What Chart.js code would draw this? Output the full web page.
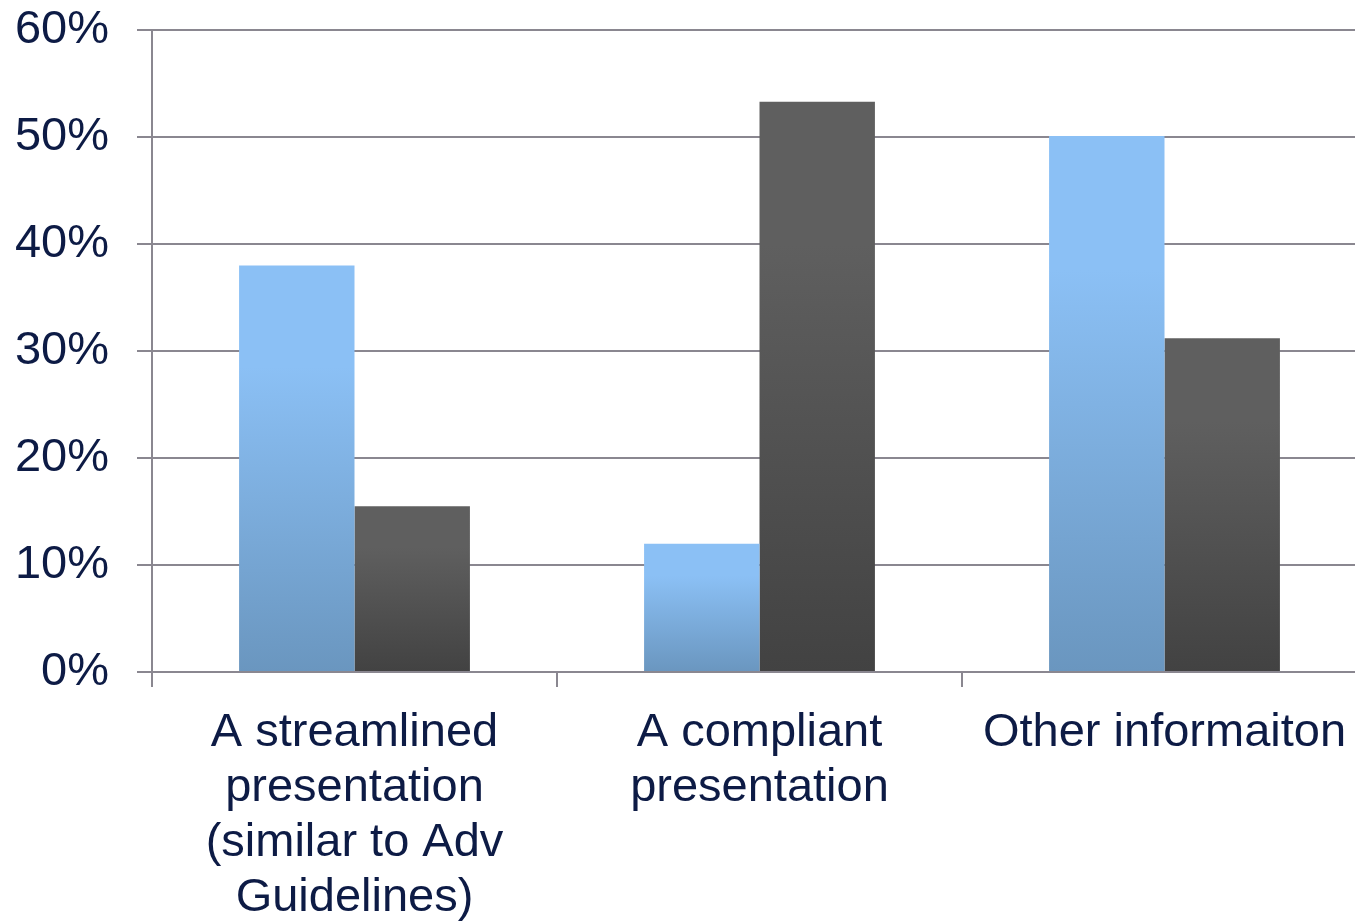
<!DOCTYPE html>
<html>
<head>
    <title>Presentation Preference</title>
    <script src="https://cdn.jsdelivr.net/npm/chart.js"></script>
    <style>
        body { margin: 0; background: #fff; }
        #wrap { width: 1355px; height: 922px; overflow: hidden; position: relative; }
        #prefChart { position: absolute; left: 0; top: -26px; }
    </style>
</head>
<body>
    <div id="wrap">
        <canvas id="prefChart" width="1367" height="948"></canvas>
    </div>

    <script>
        // Data
        var categories = [
            ['A streamlined', 'presentation', '(similar to Adv', 'Guidelines)'],
            ['A compliant', 'presentation'],
            'Other informaiton'
        ];
        var blueValues = [38, 12, 50.1];
        var darkValues = [15.5, 53.3, 31.2];
        var yTicks = [0, 10, 20, 30, 40, 50, 60];

        var textColor = '#0d1b45';
        var lineColor = '#8a8790';
        var fontFamily = 'Liberation Sans, Arial, sans-serif';

        // Vertical gradient spanning each bar, from its top down to zero
        function barGradient(topColor, bottomColor) {
            return function (context) {
                var chart = context.chart;
                var y = chart.scales.y;
                if (!chart.chartArea || !y || context.parsed === undefined) {
                    return topColor;
                }
                var top = y.getPixelForValue(context.parsed.y);
                var bottom = y.getPixelForValue(0);
                if (!isFinite(top) || !isFinite(bottom) || top === bottom) {
                    return topColor;
                }
                var g = chart.ctx.createLinearGradient(0, top, 0, bottom);
                g.addColorStop(0, topColor);
                g.addColorStop(0.25, topColor);
                g.addColorStop(1, bottomColor);
                return g;
            };
        }

        var ctx = document.getElementById('prefChart').getContext('2d');
        var chart = new Chart(ctx, {
            type: 'bar',
            data: {
                labels: categories,
                datasets: [{
                    label: 'Series 1',
                    data: blueValues,
                    backgroundColor: barGradient('#8bc0f5', '#6a96bf'),
                    categoryPercentage: 0.57,
                    barPercentage: 1
                }, {
                    label: 'Series 2',
                    data: darkValues,
                    backgroundColor: barGradient('#5f5f5f', '#424242'),
                    categoryPercentage: 0.57,
                    barPercentage: 1
                }]
            },
            options: {
                responsive: false,
                animation: false,
                layout: {
                    padding: 0
                },
                plugins: {
                    legend: { display: false },
                    tooltip: { enabled: false }
                },
                scales: {
                    x: {
                        grid: {
                            offset: true,
                            drawOnChartArea: false,
                            drawTicks: true,
                            tickLength: 15,
                            color: lineColor,
                            lineWidth: 2
                        },
                        border: { color: lineColor, width: 2 },
                        ticks: {
                            color: textColor,
                            padding: 19,
                            maxRotation: 0,
                            autoSkip: false,
                            font: { family: fontFamily, size: 47, lineHeight: 1.17 }
                        },
                        afterFit: function (scale) { scale.height = 250; }
                    },
                    y: {
                        min: 0,
                        max: 60,
                        afterBuildTicks: function (scale) {
                            scale.ticks = yTicks.map(function (v) { return { value: v }; });
                        },
                        grid: {
                            color: lineColor,
                            lineWidth: 2,
                            tickLength: 15
                        },
                        border: { color: lineColor, width: 2 },
                        ticks: {
                            color: textColor,
                            padding: 28,
                            font: { family: fontFamily, size: 47 },
                            callback: function (v) { return v + '%'; }
                        },
                        afterFit: function (scale) { scale.width = 152; }
                    }
                }
            }
        });
    </script>
</body>
</html>
